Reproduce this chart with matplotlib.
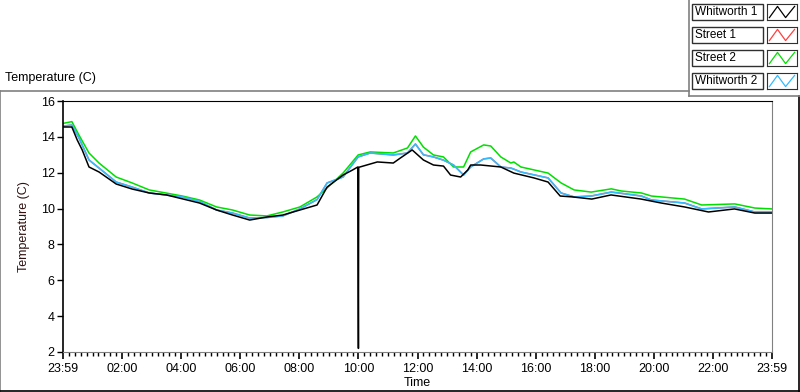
import matplotlib.pyplot as plt
from matplotlib.lines import Line2D
from matplotlib.patches import Rectangle

# hours since midnight
t_whit1 = [0.0, 0.3, 0.48, 0.65, 0.88, 1.22, 1.8, 2.34, 2.92, 3.5, 4.62, 5.2, 5.74, 6.32, 6.9, 7.44,
           8.02, 8.6, 8.94, 9.48, 9.8, 9.98, 9.99, 10.0, 10.01, 10.64, 11.18, 11.42, 11.82, 12.2,
           12.54, 12.88, 13.12, 13.46, 13.7, 13.8, 14.14, 14.82, 15.26, 15.94, 16.42, 16.83, 17.25,
           17.9, 18.55, 19.57, 20.25, 21.04, 21.85, 22.73, 23.42, 24.0]
whitworth1 = [14.55, 14.55, 13.83, 13.27, 12.32, 12.04, 11.37, 11.09, 10.87, 10.76, 10.31, 9.92, 9.64,
              9.36, 9.53, 9.64, 9.92, 10.2, 11.2, 11.87, 12.15, 12.32, 7.2, 2.2, 12.3, 12.6, 12.54,
              12.82, 13.27, 12.71, 12.43, 12.37, 11.87, 11.76, 12.15, 12.43, 12.43, 12.32, 11.98,
              11.71, 11.48, 10.7, 10.65, 10.53, 10.76, 10.53, 10.31, 10.09, 9.81, 9.98, 9.75, 9.75]

t_other = [0.0, 0.3, 0.54, 0.88, 1.22, 1.8, 2.34, 2.92, 4.04, 4.62, 5.2, 5.74, 6.32, 6.9, 7.44,
           8.02, 8.6, 8.94, 9.48, 9.99, 10.4, 11.18, 11.66, 11.93, 12.2, 12.54, 12.88, 13.22,
           13.56, 13.8, 14.24, 14.48, 14.82, 15.16, 15.26, 15.5, 16.42, 16.86, 17.3, 17.88, 18.56,
           18.9, 19.58, 19.92, 21.04, 21.62, 22.74, 23.42, 24.0]
street2 = [14.75, 14.85, 14.1, 13.1, 12.54, 11.76, 11.43, 11.04, 10.7, 10.48, 10.09, 9.92, 9.64,
           9.59, 9.81, 10.09, 10.65, 11.15, 11.98, 12.99, 13.16, 13.1, 13.38, 14.05, 13.43, 12.99,
           12.88, 12.32, 12.32, 13.16, 13.55, 13.49, 12.88, 12.54, 12.6, 12.32, 11.98, 11.43,
           11.04, 10.92, 11.1, 10.98, 10.87, 10.7, 10.53, 10.2, 10.26, 10.03, 9.98]
whitworth2 = [14.6, 14.66, 13.94, 12.71, 12.26, 11.48, 11.2, 10.87, 10.65, 10.4, 9.92, 9.75, 9.47,
              9.5, 9.59, 9.98, 10.5, 11.43, 11.76, 12.88, 13.1, 12.99, 13.1, 13.6, 13.0, 12.88,
              12.7, 12.43, 11.87, 12.32, 12.77, 12.82, 12.32, 12.26, 12.2, 12.04, 11.71, 10.87,
              10.65, 10.7, 10.92, 10.85, 10.7, 10.48, 10.31, 9.98, 10.09, 9.81, 9.81]
# Street 1 sits underneath Whitworth 2 in the reference, not visible on its own
street1 = [14.6, 14.66, 13.94, 12.71, 12.26, 11.48, 11.2, 10.87, 10.65, 10.4, 9.92, 9.75, 9.47,
           9.5, 9.59, 9.98, 10.5, 11.43, 11.76, 12.88, 13.1, 12.99, 13.1, 13.6, 13.0, 12.88,
           12.7, 12.43, 11.87, 12.32, 12.77, 12.82, 12.32, 12.26, 12.2, 12.04, 11.71, 10.87,
           10.65, 10.7, 10.92, 10.85, 10.7, 10.48, 10.31, 9.98, 10.09, 9.81, 9.81]

series_names = ['Whitworth 1', 'Street 1', 'Street 2', 'Whitworth 2']
series_colors = ['#000000', '#ff4040', '#00e000', '#33bbff']
x_ticks = [0, 2, 4, 6, 8, 10, 12, 14, 16, 18, 20, 22, 24]
x_labels = ['23:59', '02:00', '04:00', '06:00', '08:00', '10:00', '12:00', '14:00',
            '16:00', '18:00', '20:00', '22:00', '23:59']
y_ticks = [2, 4, 6, 8, 10, 12, 14, 16]

W, H = 800, 392
plt.rcParams['font.family'] = ['Liberation Sans', 'DejaVu Sans']
fig = plt.figure(figsize=(W / 100, H / 100), dpi=100)


def fx(px):
    return px / W


def fy(py):
    return 1 - py / H


ax = fig.add_axes([fx(63), fy(352), (772 - 63) / W, (352 - 101) / H])
ax.plot(t_other, street1, color=series_colors[1], lw=1)
ax.plot(t_other, street2, color=series_colors[2], lw=1.1)
ax.plot(t_other, whitworth2, color=series_colors[3], lw=1.2)
ax.plot(t_whit1, whitworth1, color=series_colors[0], lw=1.1)

ax.set_xlim(0, 24)
ax.set_ylim(2, 16)
ax.set_xticks(x_ticks)
ax.set_xticklabels(x_labels)
ax.set_xticks([i * 0.2 for i in range(121)], minor=True)
ax.set_yticks(y_ticks)
ax.tick_params(axis='both', labelsize=9, direction='out', color='black')
ax.tick_params(axis='x', which='major', length=5, width=1.2, pad=3)
ax.tick_params(axis='x', which='minor', length=3, width=1)
ax.tick_params(axis='y', length=4, width=1, pad=2)
ax.spines['left'].set_color('black')
ax.spines['top'].set_color('black')
ax.spines['right'].set_color('#808080')
ax.spines['bottom'].set_color('#808080')
ax.spines['left'].set_linewidth(1.2)
ax.set_ylabel('Temperature (C)', fontsize=9, color='#301010', labelpad=8)
ax.set_xlabel('Time', fontsize=9, labelpad=1)

fig.text(fx(5), fy(78), 'Temperature (C)', fontsize=9, va='center', ha='left')

# outer panel borders
frame = [((0, 689), (91, 91), '#808080'), ((0, 0), (91, 392), '#808080'),
         ((0, 800), (391, 391), 'black'), ((799, 799), (96, 392), 'black'),
         ((689, 689), (0, 96), '#808080'), ((689, 800), (96, 96), '#808080')]
for xs, ys, c in frame:
    fig.add_artist(Line2D([fx(v) for v in xs], [fy(v) for v in ys], color=c, lw=1.2,
                          transform=fig.transFigure))

# legend
for i, (name, col) in enumerate(zip(series_names, series_colors)):
    top = 4 + i * 23
    fig.add_artist(Rectangle((fx(692), fy(top + 16)), 71 / W, 16 / H, transform=fig.transFigure,
                             fill=False, edgecolor='#303030', lw=1))
    fig.text(fx(695), fy(top + 8), name, fontsize=8.5, va='center', ha='left')
    sw = fig.add_axes([fx(767), fy(top + 16), 30 / W, 16 / H])
    sw.plot([0.08, 0.35, 0.62, 0.92], [0.15, 0.85, 0.15, 0.85], color=col, lw=0.9)
    sw.set_xlim(0, 1)
    sw.set_ylim(0, 1)
    sw.set_xticks([])
    sw.set_yticks([])
    for s in sw.spines.values():
        s.set_color('#303030')

fig.savefig('out.png', dpi=100)
